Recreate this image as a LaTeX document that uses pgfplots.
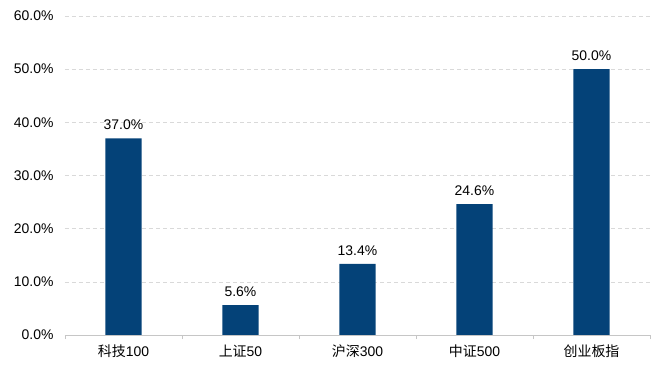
\documentclass[border=0pt]{standalone}
\usepackage{fontspec}
\setmainfont{Liberation Sans}
\newfontfamily\cjk{Noto Sans CJK SC}
\usepackage{pgfplots}
\pgfplotsset{compat=1.18}
\definecolor{barblue}{RGB}{4,66,120}
\begin{document}
\begin{tikzpicture}
\useasboundingbox (-65bp,-31bp) rectangle (601bp,335bp);
\begin{axis}[
  at={(0,0)}, anchor=south west,
  scale only axis, width=585bp, height=319bp,
  xmin=-0.5, xmax=4.5, ymin=0, ymax=60,
  axis x line=bottom, axis y line=left,
  x axis line style={-, draw=gray!45},
  y axis line style={draw=none},
  font=\fontsize{14}{16}\selectfont,
  /pgf/number format/assume math mode=true,
  ytick={0,10,...,60},
  yticklabel={\pgfmathprintnumber[fixed,fixed zerofill,precision=1]{\tick}\%},
  yticklabel style={xshift=-8bp},
  ymajorgrids, major grid style={dash pattern=on 4bp off 3bp, gray!30},
  xtick={0,1,2,3,4},
  xticklabels={{\cjk 科技}100,{\cjk 上证}50,{\cjk 沪深}300,{\cjk 中证}500,{\cjk 创业板指}},
  xticklabel style={yshift=-6bp},
  major tick length=0pt,
  minor xtick={-0.5,0.5,1.5,2.5,3.5,4.5},
  minor tick length=4bp,
  xtick align=outside,
  minor tick style={gray!45},
  bar width=0.31,
  nodes near coords={\pgfmathprintnumber[fixed,fixed zerofill,precision=1]{\pgfplotspointmeta}\%},
  every node near coord/.append style={font=\fontsize{14}{16}\selectfont, yshift=5bp},
  point meta=y,
]
\addplot[ybar, fill=barblue, draw=none] coordinates {(0,37.0) (1,5.6) (2,13.4) (3,24.6) (4,50.0)};
\end{axis}
\end{tikzpicture}
\end{document}
